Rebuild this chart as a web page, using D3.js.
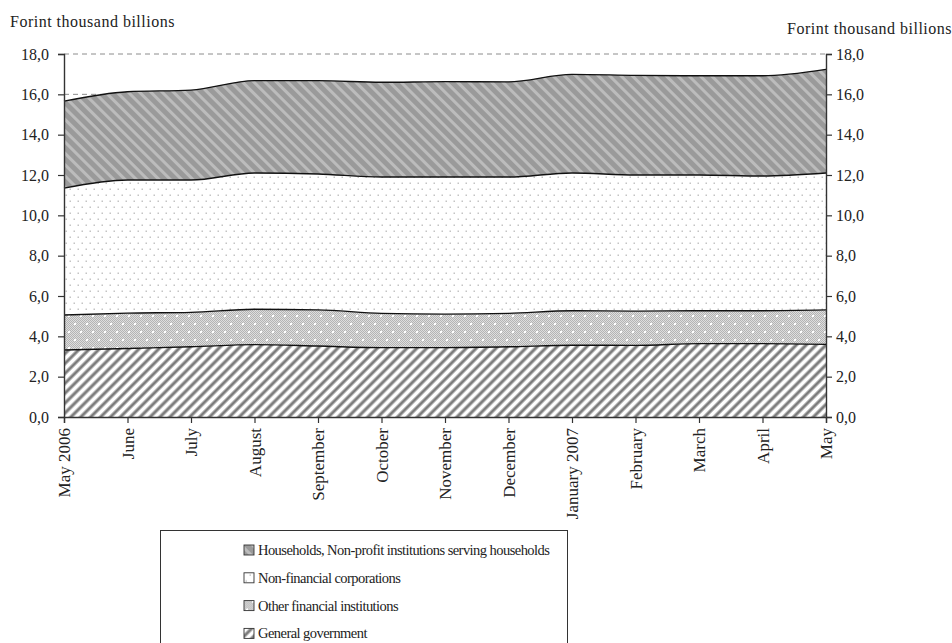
<!DOCTYPE html>
<html>
<head>
<meta charset="utf-8">
<script src="https://cdn.jsdelivr.net/npm/d3@7"></script>
<style>
  html, body { margin: 0; padding: 0; background: #fff; }
  svg { display: block; }
  text { font-family: "Liberation Serif", "DejaVu Serif", serif; fill: #222; }
</style>
</head>
<body>
<svg id="chart" width="952" height="643"></svg>
<script>
// Months (end of month stocks)
const categories = ["May 2006", "June", "July", "August", "September", "October",
  "November", "December", "January 2007", "February", "March", "April", "May"];

// Stock by sector, forint thousand billions
const generalGovernment = [3.32, 3.40, 3.48, 3.59, 3.52, 3.44, 3.44, 3.48, 3.56, 3.55, 3.64, 3.64, 3.60];
const otherFinancial    = [1.74, 1.75, 1.71, 1.75, 1.79, 1.70, 1.66, 1.66, 1.71, 1.70, 1.63, 1.63, 1.71];
const nonFinancialCorp  = [6.29, 6.60, 6.56, 6.76, 6.74, 6.76, 6.80, 6.76, 6.83, 6.75, 6.73, 6.68, 6.79];
const households        = [4.31, 4.38, 4.46, 4.58, 4.63, 4.70, 4.73, 4.72, 4.89, 4.94, 4.92, 4.97, 5.14];

const yTicks = [0, 2, 4, 6, 8, 10, 12, 14, 16, 18];
const unitLabel = "Forint thousand billions";

const seriesNames = ["General government", "Other financial institutions",
  "Non-financial corporations", "Households, Non-profit institutions serving households"];
const seriesKeys = ["gg", "ofi", "nfc", "hh"];
const legendOrder = ["hh", "nfc", "ofi", "gg"];

const rows = categories.map((c, i) => ({
  cat: c, gg: generalGovernment[i], ofi: otherFinancial[i],
  nfc: nonFinancialCorp[i], hh: households[i]
}));

const svg = d3.select("#chart");
const margin = { left: 64, right: 126, top: 54, bottom: 226 };
const W = 952, H = 643;
const x = d3.scalePoint().domain(categories).range([margin.left, W - margin.right]);
const y = d3.scaleLinear().domain([0, 18]).range([H - margin.bottom, margin.top]);

// ---- fill patterns ----
const defs = svg.append("defs");

// households: grey with light "\" stripes
const pHH = defs.append("pattern").attr("id", "pHH").attr("patternUnits", "userSpaceOnUse")
  .attr("width", 8).attr("height", 8).attr("patternTransform", "rotate(-45)");
pHH.append("rect").attr("width", 8).attr("height", 8).attr("fill", "#9a9a9a");
pHH.append("rect").attr("x", 0).attr("width", 3).attr("height", 8).attr("fill", "#bcbcbc");

// non-financial corporations: white with sparse grey dots
const pNFC = defs.append("pattern").attr("id", "pNFC").attr("patternUnits", "userSpaceOnUse")
  .attr("width", 8).attr("height", 12);
pNFC.append("rect").attr("width", 8).attr("height", 12).attr("fill", "#fff");
pNFC.append("rect").attr("x", 1.5).attr("y", 2.5).attr("width", 1.5).attr("height", 1.5).attr("fill", "#c4c4c4");
pNFC.append("rect").attr("x", 5.5).attr("y", 8.5).attr("width", 1.5).attr("height", 1.5).attr("fill", "#c4c4c4");

// other financial institutions: fine grey checker with white dots
const pChk = defs.append("pattern").attr("id", "pChk").attr("patternUnits", "userSpaceOnUse")
  .attr("width", 2).attr("height", 2);
pChk.append("rect").attr("width", 2).attr("height", 2).attr("fill", "#dedede");
pChk.append("rect").attr("width", 1).attr("height", 1).attr("fill", "#b4b4b4");
pChk.append("rect").attr("x", 1).attr("y", 1).attr("width", 1).attr("height", 1).attr("fill", "#b4b4b4");
const pOFI = defs.append("pattern").attr("id", "pOFI").attr("patternUnits", "userSpaceOnUse")
  .attr("width", 12).attr("height", 16);
pOFI.append("rect").attr("width", 12).attr("height", 16).attr("fill", "url(#pChk)");
pOFI.append("rect").attr("x", 2).attr("y", 3).attr("width", 2).attr("height", 2).attr("fill", "#fff");
pOFI.append("rect").attr("x", 8).attr("y", 11).attr("width", 2).attr("height", 2).attr("fill", "#fff");

// general government: white with grey "/" stripes
const pGG = defs.append("pattern").attr("id", "pGG").attr("patternUnits", "userSpaceOnUse")
  .attr("width", 7).attr("height", 7).attr("patternTransform", "rotate(45)");
pGG.append("rect").attr("width", 7).attr("height", 7).attr("fill", "#fff");
pGG.append("rect").attr("x", 0).attr("width", 4).attr("height", 7).attr("fill", "#b8b8b8");
pGG.append("rect").attr("x", 1).attr("width", 2).attr("height", 7).attr("fill", "#7c7c7c");

const fills = { gg: "url(#pGG)", ofi: "url(#pOFI)", nfc: "url(#pNFC)", hh: "url(#pHH)" };

// ---- gridlines (dashed, behind the areas) ----
svg.append("g").selectAll("line").data(yTicks.filter(t => t > 0)).join("line")
  .attr("x1", margin.left).attr("x2", W - margin.right)
  .attr("y1", d => y(d)).attr("y2", d => y(d))
  .attr("stroke", "#8c8c8c").attr("stroke-width", 1).attr("stroke-dasharray", "5,4");

// ---- stacked areas ----
const stack = d3.stack().keys(seriesKeys);
const layers = stack(rows);
const curve = d3.curveMonotoneX;
const area = d3.area().curve(curve)
  .x(d => x(d.data.cat)).y0(d => y(d[0])).y1(d => y(d[1]));
const topLine = d3.line().curve(curve)
  .x(d => x(d.data.cat)).y(d => y(d[1]));

svg.append("g").selectAll("path").data(layers).join("path")
  .attr("d", area).attr("fill", d => fills[d.key]);
svg.append("g").selectAll("path").data(layers).join("path")
  .attr("d", topLine).attr("fill", "none").attr("stroke", "#111").attr("stroke-width", 1.4);

// ---- axes ----
const fmt = d => d3.format(".1f")(d).replace(".", ",");
const axisStyle = size => g => {
  g.select(".domain").attr("stroke", "#333").attr("stroke-width", 1.4);
  g.selectAll(".tick line").attr("stroke", "#333").attr("stroke-width", 1.2);
  g.selectAll(".tick text").style("font-size", size).attr("fill", "#222");
};

svg.append("g").attr("transform", `translate(${margin.left},0)`)
  .call(d3.axisLeft(y).tickValues(yTicks).tickFormat(fmt).tickSizeOuter(0).tickSize(6).tickPadding(9))
  .call(axisStyle("16px"));
svg.append("g").attr("transform", `translate(${W - margin.right},0)`)
  .call(d3.axisRight(y).tickValues(yTicks).tickFormat(fmt).tickSizeOuter(0).tickSize(6).tickPadding(4))
  .call(axisStyle("16px"));

const xa = svg.append("g").attr("transform", `translate(0,${y(0)})`)
  .call(d3.axisBottom(x).tickSizeOuter(0).tickSize(6).tickPadding(0))
  .call(axisStyle("17px"));
xa.selectAll(".tick text")
  .attr("transform", "rotate(-90)")
  .attr("text-anchor", "end")
  .attr("x", -11).attr("y", 0).attr("dy", "0.35em");

// ---- unit labels ----
svg.append("text").attr("x", 10).attr("y", 27).style("font-size", "16px")
  .style("letter-spacing", "0.5px").text(unitLabel);
svg.append("text").attr("x", 952).attr("y", 34).attr("text-anchor", "end")
  .style("font-size", "16px").style("letter-spacing", "0.5px").text(unitLabel);

// ---- legend ----
const lg = svg.append("g");
lg.append("rect").attr("x", 160.5).attr("y", 530.5).attr("width", 407).attr("height", 130)
  .attr("fill", "#fff").attr("stroke", "#333").attr("stroke-width", 1);
const item = lg.selectAll("g.item").data(legendOrder).join("g")
  .attr("transform", (d, i) => `translate(244,${550 + i * 27.8})`);
item.append("rect").attr("x", 0).attr("y", -5).attr("width", 10).attr("height", 10)
  .attr("fill", d => fills[d]).attr("stroke", "#333").attr("stroke-width", 0.9);
item.append("text").attr("x", 14).attr("y", 0).attr("dy", "0.35em")
  .style("font-size", "14.5px").style("letter-spacing", "-0.55px")
  .text(d => seriesNames[seriesKeys.indexOf(d)]);
</script>
</body>
</html>
